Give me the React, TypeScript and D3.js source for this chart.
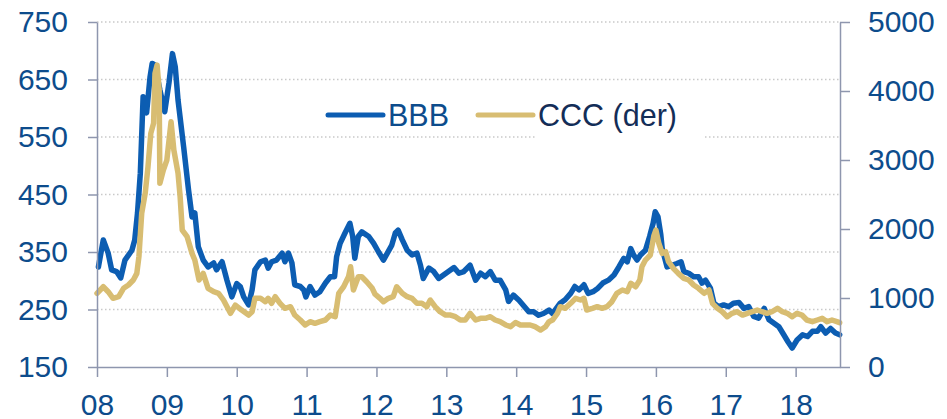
import { useEffect, useRef } from "react"
import * as d3 from "d3"

// BBB spread (left axis), dates as decimal years
const bbbDates = [
  2008.02, 2008.09, 2008.16, 2008.21, 2008.28, 2008.34, 2008.40, 2008.50, 2008.54, 2008.58,
  2008.62, 2008.66, 2008.71, 2008.76, 2008.79, 2008.83, 2008.90, 2008.97, 2009.03, 2009.08,
  2009.12, 2009.16, 2009.24, 2009.31, 2009.36, 2009.40, 2009.45, 2009.52, 2009.59, 2009.67,
  2009.71, 2009.79, 2009.86, 2009.93, 2010.00, 2010.05, 2010.10, 2010.17, 2010.22, 2010.26,
  2010.34, 2010.41, 2010.45, 2010.50, 2010.57, 2010.65, 2010.69, 2010.74, 2010.79, 2010.83,
  2010.91, 2010.96, 2010.99, 2011.05, 2011.12, 2011.19, 2011.27, 2011.34, 2011.40, 2011.43,
  2011.48, 2011.55, 2011.62, 2011.66, 2011.69, 2011.74, 2011.79, 2011.89, 2011.96, 2012.03,
  2012.10, 2012.17, 2012.22, 2012.27, 2012.31, 2012.37, 2012.44, 2012.51, 2012.58, 2012.63,
  2012.67, 2012.75, 2012.82, 2012.89, 2012.96, 2013.03, 2013.11, 2013.18, 2013.25, 2013.34,
  2013.42, 2013.49, 2013.56, 2013.63, 2013.70, 2013.77, 2013.85, 2013.89, 2013.96, 2014.04,
  2014.11, 2014.18, 2014.25, 2014.32, 2014.39, 2014.47, 2014.52, 2014.63, 2014.70, 2014.78,
  2014.84, 2014.90, 2014.97, 2015.03, 2015.10, 2015.17, 2015.24, 2015.32, 2015.40, 2015.47,
  2015.54, 2015.59, 2015.64, 2015.68, 2015.73, 2015.78, 2015.85, 2015.91, 2015.96, 2015.99,
  2016.03, 2016.07, 2016.09, 2016.16, 2016.23, 2016.30, 2016.36, 2016.40, 2016.47, 2016.54,
  2016.61, 2016.66, 2016.71, 2016.78, 2016.83, 2016.90, 2016.97, 2017.04, 2017.11, 2017.19,
  2017.26, 2017.33, 2017.40, 2017.47, 2017.55, 2017.62, 2017.69, 2017.76, 2017.83, 2017.89,
  2017.95, 2018.02, 2018.10, 2018.17, 2018.24, 2018.31, 2018.36, 2018.43, 2018.50, 2018.57,
  2018.63,
]
const bbbValues = [
  324, 371, 348, 319, 316, 305, 336, 353, 371, 418,
  487, 620, 592, 655, 678, 675, 632, 594, 644, 695,
  672, 614, 533, 458, 411, 418, 359, 336, 324, 331,
  319, 333, 301, 272, 295, 290, 272, 258, 284, 319,
  333, 336, 322, 333, 336, 348, 333, 348, 331, 293,
  290, 284, 272, 290, 275, 281, 296, 307, 307, 342,
  365, 383, 400, 377, 339, 377, 385, 377, 365, 350,
  336, 351, 362, 383, 388, 371, 353, 345, 348, 327,
  304, 322, 316, 304, 310, 316, 323, 313, 316, 327,
  301, 313, 307, 316, 301, 301, 284, 264, 275, 266,
  256, 246, 246, 240, 243, 249, 243, 261, 267, 278,
  290, 284, 293, 278, 281, 287, 296, 301, 310, 324,
  339, 333, 356, 345, 336, 345, 353, 377, 400, 420,
  411, 380, 356, 324, 327, 330, 333, 316, 313, 307,
  307, 296, 301, 287, 261, 255, 258, 255, 261, 262,
  252, 255, 238, 235, 252, 232, 226, 220, 206, 194,
  183, 197, 206, 203, 212, 212, 220, 209, 217, 209,
  206,
]

// CCC spread (right axis)
const cccDates = [
  2008.00, 2008.09, 2008.16, 2008.23, 2008.31, 2008.38, 2008.45, 2008.52, 2008.57, 2008.60,
  2008.64, 2008.69, 2008.73, 2008.77, 2008.81, 2008.83, 2008.86, 2008.89, 2008.90, 2008.95,
  2009.00, 2009.06, 2009.10, 2009.16, 2009.19, 2009.22, 2009.29, 2009.36, 2009.40, 2009.46,
  2009.52, 2009.59, 2009.67, 2009.74, 2009.81, 2009.91, 2009.98, 2010.07, 2010.17, 2010.22,
  2010.26, 2010.34, 2010.41, 2010.45, 2010.50, 2010.55, 2010.62, 2010.69, 2010.77, 2010.83,
  2010.91, 2010.98, 2011.05, 2011.12, 2011.19, 2011.27, 2011.34, 2011.41, 2011.46, 2011.53,
  2011.60, 2011.63, 2011.67, 2011.74, 2011.79, 2011.86, 2011.94, 2011.98, 2012.05, 2012.10,
  2012.17, 2012.24, 2012.29, 2012.37, 2012.44, 2012.51, 2012.58, 2012.65, 2012.72, 2012.77,
  2012.84, 2012.91, 2012.99, 2013.06, 2013.13, 2013.20, 2013.27, 2013.34, 2013.42, 2013.49,
  2013.56, 2013.63, 2013.70, 2013.77, 2013.85, 2013.92, 2013.99, 2014.06, 2014.13, 2014.20,
  2014.27, 2014.35, 2014.42, 2014.47, 2014.52, 2014.59, 2014.63, 2014.70, 2014.78, 2014.85,
  2014.92, 2014.97, 2015.01, 2015.09, 2015.16, 2015.23, 2015.30, 2015.37, 2015.44, 2015.52,
  2015.59, 2015.64, 2015.71, 2015.77, 2015.80, 2015.85, 2015.92, 2015.97, 2016.00, 2016.04,
  2016.09, 2016.14, 2016.18, 2016.25, 2016.32, 2016.40, 2016.47, 2016.54, 2016.61, 2016.69,
  2016.76, 2016.81, 2016.88, 2016.95, 2017.02, 2017.09, 2017.16, 2017.24, 2017.31, 2017.38,
  2017.45, 2017.52, 2017.59, 2017.66, 2017.74, 2017.81, 2017.88, 2017.95, 2018.02, 2018.09,
  2018.16, 2018.24, 2018.31, 2018.38, 2018.45, 2018.52, 2018.59, 2018.63,
]
const cccValues = [
  1068, 1163, 1091, 995, 1019, 1140, 1188, 1261, 1357, 1598,
  2227, 2517, 2902, 3386, 3531, 4256, 4376, 4014, 2662, 2855,
  2999, 3554, 3144, 2807, 2468, 1985, 1888, 1647, 1550, 1261,
  1357, 1140, 1091, 1068, 971, 778, 898, 825, 753, 801,
  995, 995, 946, 995, 923, 1019, 923, 850, 874, 753,
  681, 609, 657, 633, 657, 681, 753, 729, 1068, 1163,
  1308, 1453, 1116, 1308, 1308, 1236, 1140, 1055, 995, 946,
  995, 1019, 1163, 1068, 1019, 995, 923, 923, 874, 971,
  874, 801, 753, 753, 729, 681, 681, 778, 681, 706,
  706, 729, 681, 657, 609, 584, 645, 609, 609, 609,
  584, 536, 584, 657, 681, 778, 874, 850, 923, 995,
  971, 995, 826, 850, 874, 850, 874, 946, 1068, 1116,
  1092, 1213, 1163, 1261, 1453, 1550, 1623, 1900, 1985, 1800,
  1647, 1671, 1526, 1430, 1357, 1285, 1261, 1188, 1140, 1068,
  1116, 923, 850, 801, 729, 778, 801, 753, 778, 801,
  826, 801, 778, 801, 850, 801, 778, 729, 778, 753,
  681, 657, 681, 706, 657, 681, 657, 642,
]

const leftTicks = [150, 250, 350, 450, 550, 650, 750]
const rightTicks = [0, 1000, 2000, 3000, 4000, 5000]
const yearTicks = [2008, 2009, 2010, 2011, 2012, 2013, 2014, 2015, 2016, 2017, 2018]
const seriesNames = ["BBB", "CCC (der)"]

const BLUE = "#0C5DB2"
const GOLD = "#D8BD72"
const AXIS = "#8E96AE"
const LABEL = "#0D4C8C"
const FONT = "'Liberation Sans', Arial, sans-serif"

export default function App() {
  const svgRef = useRef<SVGSVGElement>(null)

  useEffect(() => {
    const svg = d3.select(svgRef.current)
    svg.selectAll("*").remove()

    const left = 97, right = 840, top = 22, bottom = 367

    const x = d3.scaleLinear().domain([2008, 2018.635]).range([left, right])
    const yL = d3.scaleLinear().domain([150, 750]).range([bottom, top])
    const yR = d3.scaleLinear().domain([0, 5000]).range([bottom, top])

    // Grid lines
    svg.append("g")
      .selectAll("line")
      .data(leftTicks.filter(d => d > 150))
      .enter()
      .append("line")
      .attr("x1", left)
      .attr("x2", right)
      .attr("y1", d => yL(d))
      .attr("y2", d => yL(d))
      .attr("stroke", "#C9C9C9")
      .attr("stroke-width", 1.5)
      .attr("stroke-dasharray", "1.5,2.5")

    // Legend background (covers grid partly)
    svg.append("rect")
      .attr("x", 536)
      .attr("y", 92)
      .attr("width", 169)
      .attr("height", 48)
      .attr("fill", "white")

    const bbb = bbbDates.map((d, i) => [d, bbbValues[i]] as [number, number])
    const ccc = cccDates.map((d, i) => [d, cccValues[i]] as [number, number])

    const lineL = d3.line<[number, number]>().x(d => x(d[0])).y(d => yL(d[1]))
    const lineR = d3.line<[number, number]>().x(d => x(d[0])).y(d => yR(d[1]))

    svg.append("path")
      .datum(bbb)
      .attr("d", lineL)
      .attr("fill", "none")
      .attr("stroke", BLUE)
      .attr("stroke-width", 5.5)
      .attr("stroke-linejoin", "round")
      .attr("stroke-linecap", "round")

    svg.append("path")
      .datum(ccc)
      .attr("d", lineR)
      .attr("fill", "none")
      .attr("stroke", GOLD)
      .attr("stroke-width", 5.5)
      .attr("stroke-linejoin", "round")
      .attr("stroke-linecap", "round")

    // Axes
    const styleAxis = (g: any) => {
      g.select(".domain").attr("stroke", AXIS).attr("stroke-width", 1.5)
      g.selectAll(".tick line").attr("stroke", AXIS).attr("stroke-width", 1.5)
      g.selectAll(".tick text")
        .attr("fill", LABEL)
        .style("font-family", FONT)
        .style("font-size", "30px")
    }

    svg.append("g")
      .attr("transform", `translate(${left},0)`)
      .call(d3.axisLeft(yL).tickValues(leftTicks).tickSize(9).tickSizeOuter(0).tickPadding(20))
      .call(styleAxis)

    svg.append("g")
      .attr("transform", `translate(${right},0)`)
      .call(
        d3.axisRight(yR)
          .tickValues(rightTicks)
          .tickSize(10)
          .tickSizeOuter(0)
          .tickPadding(18)
          .tickFormat(d3.format("d"))
      )
      .call(styleAxis)

    svg.append("g")
      .attr("transform", `translate(0,${bottom})`)
      .call(
        d3.axisBottom(x)
          .tickValues(yearTicks)
          .tickSize(10)
          .tickSizeOuter(0)
          .tickPadding(17)
          .tickFormat(d => String(d).slice(2))
      )
      .call(styleAxis)

    // Legend
    const legend = svg.append("g")
    const items = [
      { name: seriesNames[0], color: BLUE, x1: 328, text: LABEL },
      { name: seriesNames[1], color: GOLD, x1: 478, text: "#132D57" },
    ]
    items.forEach(it => {
      legend.append("line")
        .attr("x1", it.x1)
        .attr("x2", it.x1 + 55)
        .attr("y1", 115)
        .attr("y2", 115)
        .attr("stroke", it.color)
        .attr("stroke-width", 5)
        .attr("stroke-linecap", "round")
      legend.append("text")
        .attr("x", it.x1 + 60)
        .attr("y", 125.5)
        .attr("fill", it.text)
        .style("font-family", FONT)
        .style("font-size", "30.5px")
        .text(it.name)
    })
  }, [])

  return (
    <svg
      ref={svgRef}
      width={947}
      height={419}
      style={{ position: "absolute", left: 0, top: 0, background: "white" }}
    />
  )
}
